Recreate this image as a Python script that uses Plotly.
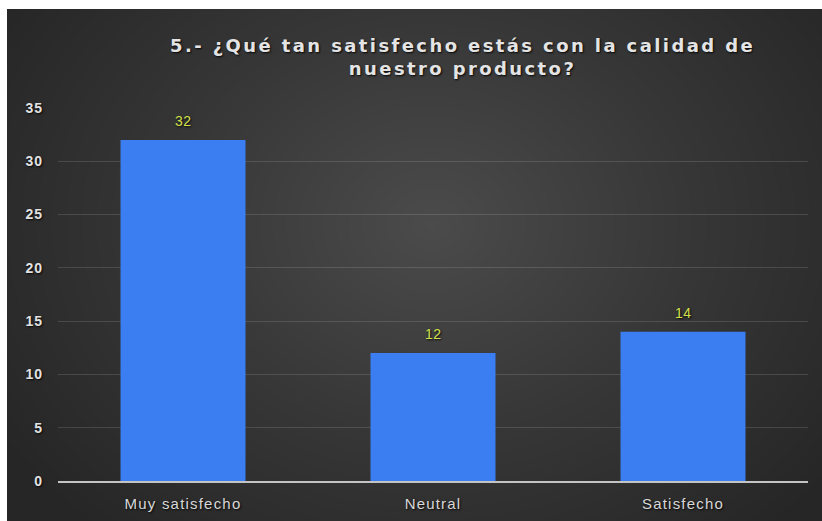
import numpy as np
import plotly.graph_objects as go

# Survey answers and their counts
categories = ["Muy satisfecho", "Neutral", "Satisfecho"]
counts = [32, 12, 14]
y_ticks = [0, 5, 10, 15, 20, 25, 30, 35]
title_lines = ["5.- ¿Qué tan satisfecho estás con la calidad de", "nuestro producto?"]

W, H = 822, 521


def spaced(text, px):
    return f'<span style="letter-spacing:{px}px">{text}</span>'


# Soft radial vignette for the dark panel behind the chart
nx, ny = 140, 100
gx = np.linspace(-0.05, 1.05, nx)
gy = np.linspace(-0.05, 1.05, ny)
X, Y = np.meshgrid(gx, gy)
r = np.sqrt(((X - 0.52) / 0.62) ** 2 + ((Y - 0.58) / 0.8) ** 2)
shade = np.clip(1 - r, 0, 1)

fig = go.Figure()

fig.add_trace(go.Heatmap(
    x=gx, y=gy, z=shade,
    colorscale=[[0, "#262626"], [0.5, "#373737"], [1, "#4b4b4b"]],
    zmin=0, zmax=1, zsmooth="best", showscale=False, hoverinfo="skip",
    xaxis="x", yaxis="y",
))

fig.add_trace(go.Bar(
    x=categories, y=counts,
    marker=dict(color="#3a7ef2", line=dict(width=0)),
    width=0.5,
    xaxis="x2", yaxis="y2",
    hoverinfo="x+y",
))

for c, v in zip(categories, counts):
    fig.add_annotation(
        x=c, y=v, xref="x2", yref="y2", text=spaced(str(v), 0.5), showarrow=False,
        yshift=19, font=dict(family="Liberation Sans", size=14, color="#d4e04a",
                             shadow="1px 1px 2px rgba(0,0,0,0.9)"),
    )

fig.add_annotation(
    x=462 / W, y=1 - 57 / H, xref="paper", yref="paper",
    text="<br>".join(spaced(t, 2.4) for t in title_lines),
    showarrow=False, align="center", xanchor="center", yanchor="middle",
    font=dict(family="DejaVu Sans", size=18, color="#e4e4e4", weight="bold",
              shadow="1px 1px 2px rgba(0,0,0,0.9)"),
)

fig.update_layout(
    width=W, height=H,
    margin=dict(l=0, r=0, t=0, b=0, pad=0, autoexpand=False),
    paper_bgcolor="#262626",
    plot_bgcolor="rgba(0,0,0,0)",
    showlegend=False,
    # white page strips along the top and left edges
    shapes=[
        dict(type="rect", xref="paper", yref="paper", layer="above",
             x0=0, x1=1, y0=1 - 9 / H, y1=1, fillcolor="#ffffff", line=dict(width=0)),
        dict(type="rect", xref="paper", yref="paper", layer="above",
             x0=0, x1=7 / W, y0=0, y1=1, fillcolor="#ffffff", line=dict(width=0)),
    ],
    xaxis=dict(domain=[7 / W, 1], range=[0, 1], visible=False, fixedrange=True),
    yaxis=dict(domain=[0, 1 - 9 / H], range=[0, 1], visible=False, fixedrange=True),
    xaxis2=dict(
        domain=[58 / W, 808 / W], anchor="y2",
        showgrid=False, showline=True, linecolor="#c4c4c4", linewidth=2,
        ticks="", ticklabelstandoff=8,
        tickvals=categories, ticktext=[spaced(c, 1.2) for c in categories],
        tickfont=dict(family="Liberation Sans", size=15, color="#d8d8d8",
                      shadow="1px 1px 2px rgba(0,0,0,0.9)"),
    ),
    yaxis2=dict(
        domain=[(H - 481) / H, (H - 108) / H], anchor="x2",
        range=[0, 35], tickvals=y_ticks,
        ticktext=[spaced(str(t), 1) for t in y_ticks], zeroline=False,
        showgrid=True, gridcolor="rgba(255,255,255,0.13)", gridwidth=1,
        ticks="", ticklabelstandoff=14,
        tickfont=dict(family="Liberation Sans", size=14, color="#e2e2e2", weight="bold",
                      shadow="1px 1px 2px rgba(0,0,0,0.9)"),
    ),
)

fig.write_html("out.html")
